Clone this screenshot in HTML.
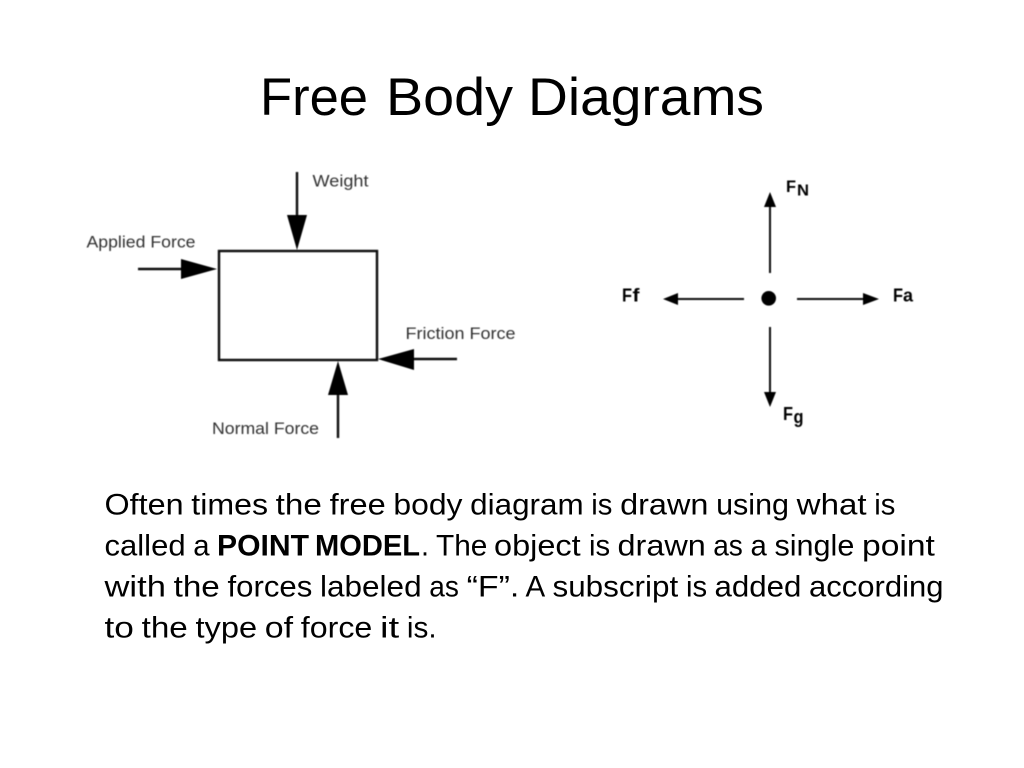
<!DOCTYPE html>
<html>
<head>
<meta charset="utf-8">
<style>
html,body{margin:0;padding:0;background:#fff;width:1024px;height:768px;overflow:hidden}
svg{position:absolute;left:0;top:0}
</style>
</head>
<body>
<svg width="1024" height="768" viewBox="0 0 1024 768" xmlns="http://www.w3.org/2000/svg">
<defs><filter id="b" x="-5%" y="-5%" width="110%" height="110%"><feGaussianBlur stdDeviation="0.45"/></filter></defs>

<g font-family="'Liberation Sans',sans-serif" font-size="53" fill="#000">
<text x="260" y="115" textLength="108" lengthAdjust="spacingAndGlyphs">Free</text>
<text x="386" y="115" textLength="127" lengthAdjust="spacingAndGlyphs">Body</text>
<text x="528" y="115" textLength="236" lengthAdjust="spacingAndGlyphs">Diagrams</text>
</g>

<g filter="url(#b)">
<g stroke="#111" fill="none" stroke-width="2.4">
<rect x="219" y="251" width="158" height="109"/>
<line x1="297" y1="172" x2="297" y2="220"/>
<line x1="138" y1="269" x2="185" y2="269"/>
<line x1="410" y1="359" x2="457" y2="359"/>
<line x1="338" y1="390" x2="338" y2="438"/>
</g>
<g stroke="#111" fill="none" stroke-width="2">
<line x1="770" y1="205" x2="770" y2="273"/>
<line x1="676" y1="299" x2="744" y2="299"/>
<line x1="797" y1="299" x2="866" y2="299"/>
<line x1="770" y1="327" x2="770" y2="394"/>
</g>
<g fill="#000">
<polygon points="287,215 307,215 297,250"/>
<polygon points="181,259 181,279 217,269"/>
<polygon points="414,349 414,370 378,359"/>
<polygon points="328,395 348,395 338,361"/>
<polygon points="764,207 776,207 770,192"/>
<polygon points="678,293 678,305 663,299"/>
<polygon points="863,293 863,305 879,299"/>
<polygon points="764,392 776,392 770,407"/>
<circle cx="768.7" cy="298.3" r="7.3"/>
</g>
<g font-family="'Liberation Sans',sans-serif" font-size="16.5" fill="#333">
<text x="312.5" y="186.5" textLength="56" lengthAdjust="spacingAndGlyphs">Weight</text>
<text x="86.5" y="247.5" textLength="109" lengthAdjust="spacingAndGlyphs">Applied Force</text>
<text x="405.5" y="339" textLength="110" lengthAdjust="spacingAndGlyphs">Friction Force</text>
<text x="212" y="434" textLength="107" lengthAdjust="spacingAndGlyphs">Normal Force</text>
</g>
<g font-family="'Liberation Sans',sans-serif" fill="#000" font-weight="bold">
<text x="786" y="192" font-size="17" textLength="10" lengthAdjust="spacingAndGlyphs">F</text>
<text x="797" y="195.3" font-size="16" textLength="12" lengthAdjust="spacingAndGlyphs">N</text>
<text x="622" y="301.7" font-size="18" textLength="10" lengthAdjust="spacingAndGlyphs">F</text>
<text x="632.5" y="301.7" font-size="18" textLength="7" lengthAdjust="spacingAndGlyphs">f</text>
<text x="893" y="301.7" font-size="18" textLength="10" lengthAdjust="spacingAndGlyphs">F</text>
<text x="903" y="301.7" font-size="18" textLength="10" lengthAdjust="spacingAndGlyphs">a</text>
<text x="783" y="420" font-size="18" textLength="10" lengthAdjust="spacingAndGlyphs">F</text>
<text x="793.5" y="423" font-size="18" textLength="10" lengthAdjust="spacingAndGlyphs">g</text>
</g>
</g>

<g font-family="'Liberation Sans',sans-serif" font-size="29.5" fill="#000">
<text x="104.5" y="514.7" textLength="79.1" lengthAdjust="spacingAndGlyphs">Often</text>
<text x="191.3" y="514.7" textLength="76.7" lengthAdjust="spacingAndGlyphs">times</text>
<text x="275.7" y="514.7" textLength="46.2" lengthAdjust="spacingAndGlyphs">the</text>
<text x="329.6" y="514.7" textLength="56.1" lengthAdjust="spacingAndGlyphs">free</text>
<text x="393.4" y="514.7" textLength="69.1" lengthAdjust="spacingAndGlyphs">body</text>
<text x="470.2" y="514.7" textLength="113.4" lengthAdjust="spacingAndGlyphs">diagram</text>
<text x="591.3" y="514.7" textLength="21.1" lengthAdjust="spacingAndGlyphs">is</text>
<text x="620.1" y="514.7" textLength="88.3" lengthAdjust="spacingAndGlyphs">drawn</text>
<text x="716.1" y="514.7" textLength="72.9" lengthAdjust="spacingAndGlyphs">using</text>
<text x="796.7" y="514.7" textLength="69.9" lengthAdjust="spacingAndGlyphs">what</text>
<text x="874.3" y="514.7" textLength="21.1" lengthAdjust="spacingAndGlyphs">is</text>

<text x="104.5" y="555.7" textLength="81.1" lengthAdjust="spacingAndGlyphs">called</text>
<text x="193.3" y="555.7" textLength="16.3" lengthAdjust="spacingAndGlyphs">a</text>
<text x="217" y="555.7" font-weight="bold" textLength="92" lengthAdjust="spacingAndGlyphs">POINT</text>
<text x="315" y="555.7" font-weight="bold" textLength="105" lengthAdjust="spacingAndGlyphs">MODEL</text>
<text x="421" y="555.7" textLength="8" lengthAdjust="spacingAndGlyphs">.</text>
<text x="436" y="555.7" textLength="51.4" lengthAdjust="spacingAndGlyphs">The</text>
<text x="494" y="555.7" textLength="86.7" lengthAdjust="spacingAndGlyphs">object</text>
<text x="589" y="555.7" textLength="21.1" lengthAdjust="spacingAndGlyphs">is</text>
<text x="617.5" y="555.7" textLength="88.3" lengthAdjust="spacingAndGlyphs">drawn</text>
<text x="713.2" y="555.7" textLength="29.6" lengthAdjust="spacingAndGlyphs">as</text>
<text x="750.5" y="555.7" textLength="16.3" lengthAdjust="spacingAndGlyphs">a</text>
<text x="774.5" y="555.7" textLength="79.8" lengthAdjust="spacingAndGlyphs">single</text>
<text x="862" y="555.7" textLength="72.9" lengthAdjust="spacingAndGlyphs">point</text>

<text x="104.5" y="596.7" textLength="61.4" lengthAdjust="spacingAndGlyphs">with</text>
<text x="173.6" y="596.7" textLength="46.2" lengthAdjust="spacingAndGlyphs">the</text>
<text x="227.5" y="596.7" textLength="84.8" lengthAdjust="spacingAndGlyphs">forces</text>
<text x="320" y="596.7" textLength="101.6" lengthAdjust="spacingAndGlyphs">labeled</text>
<text x="429.3" y="596.7" textLength="29.6" lengthAdjust="spacingAndGlyphs">as</text>
<text x="466.6" y="596.7" textLength="52.7" lengthAdjust="spacingAndGlyphs">“F”.</text>
<text x="525.5" y="596.7" textLength="19.7" lengthAdjust="spacingAndGlyphs">A</text>
<text x="552.5" y="596.7" textLength="125.7" lengthAdjust="spacingAndGlyphs">subscript</text>
<text x="686" y="596.7" textLength="21.1" lengthAdjust="spacingAndGlyphs">is</text>
<text x="714.5" y="596.7" textLength="86.9" lengthAdjust="spacingAndGlyphs">added</text>
<text x="809" y="596.7" textLength="134.5" lengthAdjust="spacingAndGlyphs">according</text>

<text x="104.5" y="637.7" textLength="29.4" lengthAdjust="spacingAndGlyphs">to</text>
<text x="141.6" y="637.7" textLength="46.2" lengthAdjust="spacingAndGlyphs">the</text>
<text x="195.5" y="637.7" textLength="61.6" lengthAdjust="spacingAndGlyphs">type</text>
<text x="264.8" y="637.7" textLength="28.3" lengthAdjust="spacingAndGlyphs">of</text>
<text x="300.8" y="637.7" textLength="71.5" lengthAdjust="spacingAndGlyphs">force</text>
<text x="380" y="637.7" textLength="19.2" lengthAdjust="spacingAndGlyphs">it</text>
<text x="406.9" y="637.7" textLength="29.7" lengthAdjust="spacingAndGlyphs">is.</text>
</g>
</svg>
</body>
</html>
